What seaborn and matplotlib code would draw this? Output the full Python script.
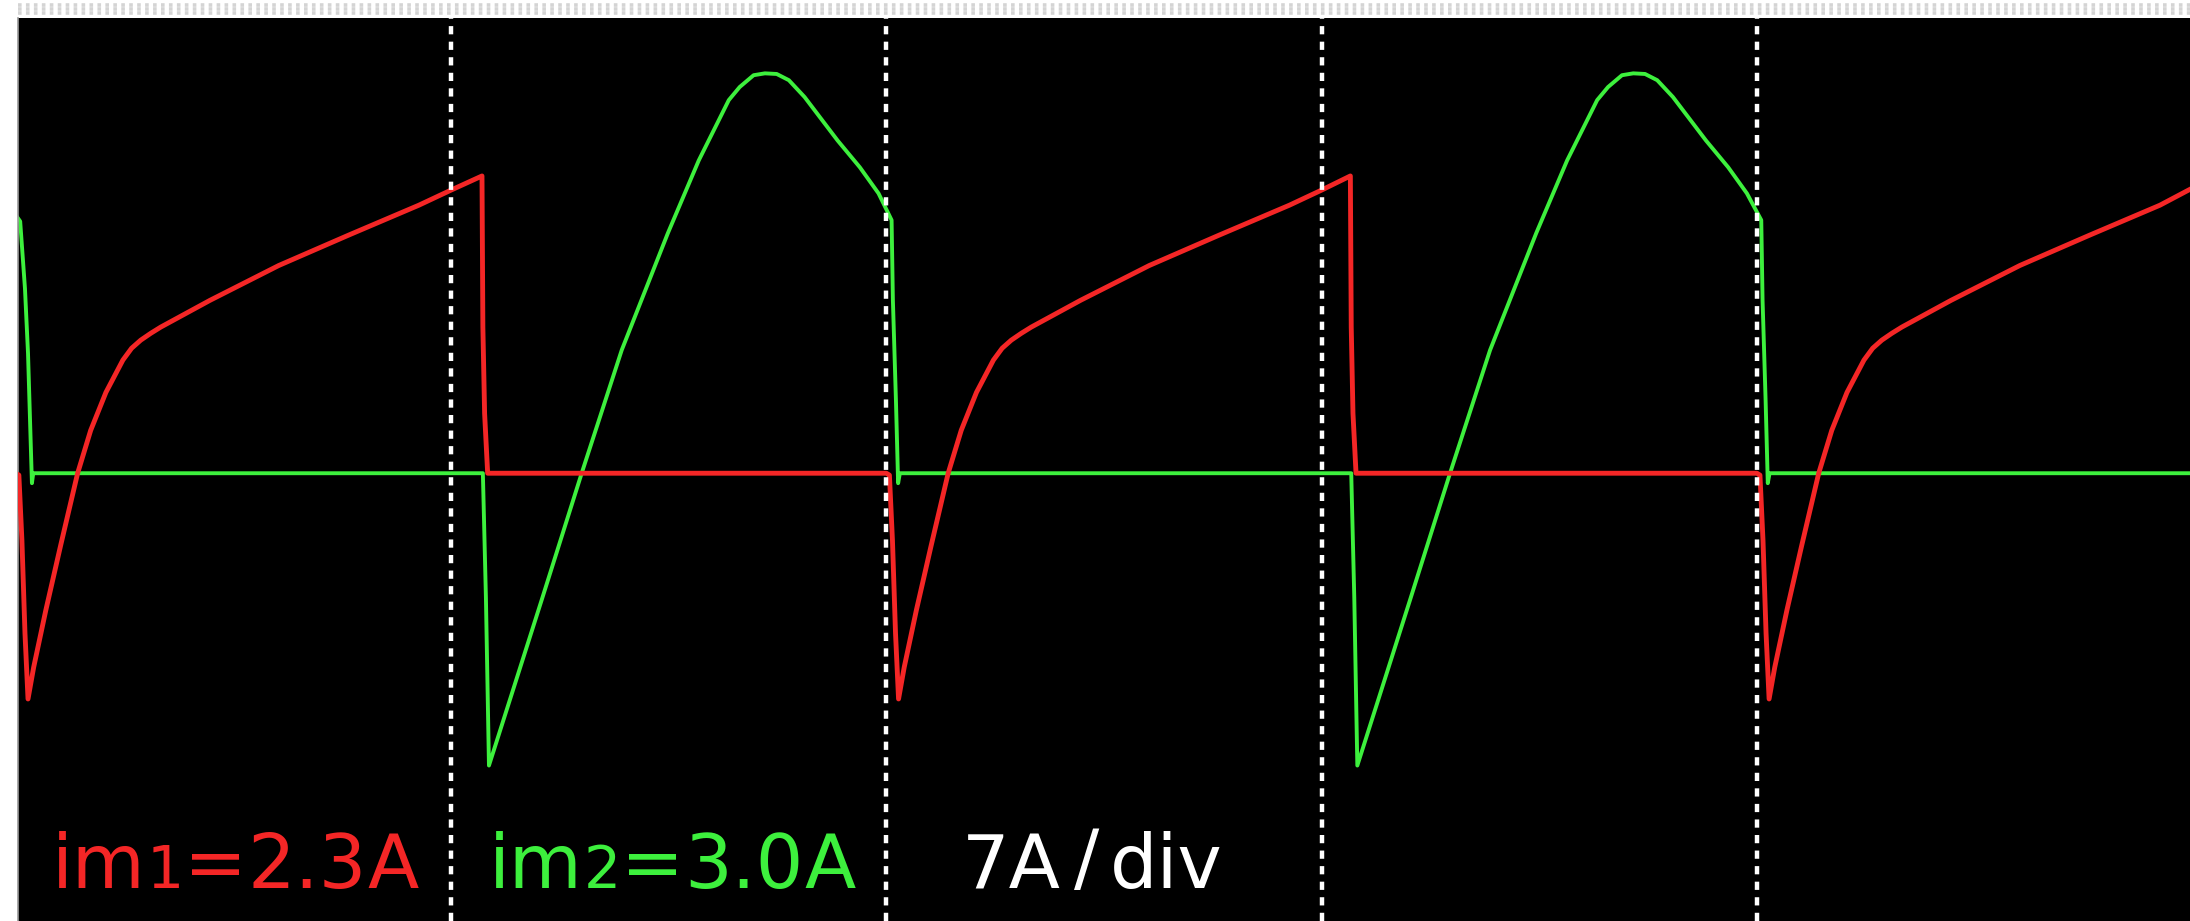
import numpy as np
import pandas as pd
import matplotlib
matplotlib.use("Agg")
import matplotlib.pyplot as plt
import seaborn as sns
from matplotlib.lines import Line2D

# ---------------- data (time in divisions, current in A; 7 A/div) ----------------
red_t = [0.000, 0.007, 0.014, 0.021, 0.028, 0.041, 0.069, 0.103, 0.142, 0.172, 0.207, 0.246,
         0.266, 0.287, 0.310, 0.333, 0.446, 0.604, 0.765, 0.926, 0.999, 1.071, 1.073, 1.077, 1.084,
         2.000, 2.007, 2.014, 2.021, 2.028, 2.041, 2.069, 2.103, 2.142, 2.172, 2.207, 2.246,
         2.266, 2.287, 2.310, 2.333, 2.446, 2.604, 2.765, 2.926, 2.999, 3.066, 3.068, 3.072, 3.079,
         4.000, 4.007, 4.014, 4.021, 4.028, 4.041, 4.069, 4.103, 4.142, 4.172, 4.207, 4.246,
         4.266, 4.287, 4.310, 4.333, 4.446, 4.604, 4.765, 4.926, 4.999]
red_a = [0.00, -0.03, -1.08, -2.57, -3.63, -3.12, -2.20, -1.16, 0.00, 0.69, 1.30, 1.82,
         2.01, 2.14, 2.25, 2.35, 2.78, 3.34, 3.83, 4.31, 4.55, 4.78, 2.35, 0.96, 0.00,
         0.00, -0.03, -1.08, -2.57, -3.63, -3.12, -2.20, -1.16, 0.00, 0.69, 1.30, 1.82,
         2.01, 2.14, 2.25, 2.35, 2.78, 3.34, 3.83, 4.31, 4.55, 4.78, 2.35, 0.96, 0.00,
         0.00, -0.03, -1.08, -2.57, -3.63, -3.12, -2.20, -1.16, 0.00, 0.69, 1.30, 1.82,
         2.01, 2.14, 2.25, 2.35, 2.78, 3.34, 3.83, 4.31, 4.58]

green_t = [0.000, 0.010, 0.021, 0.028, 0.037, 0.040,
           1.073, 1.080, 1.087, 1.208, 1.300, 1.392, 1.498, 1.569, 1.638, 1.663, 1.695,
           1.721, 1.748, 1.776, 1.812, 1.888, 1.939, 1.982, 2.012, 2.015, 2.022, 2.027, 2.031,
           3.068, 3.075, 3.082, 3.203, 3.295, 3.387, 3.493, 3.564, 3.633, 3.658, 3.690,
           3.716, 3.743, 3.771, 3.807, 3.883, 3.934, 3.977, 4.010, 4.013, 4.020, 4.025, 4.029,
           4.999]
green_a = [4.15, 4.05, 2.97, 1.93, -0.16, 0.00,
           0.00, -2.00, -4.70, -2.04, 0.00, 1.98, 3.86, 5.03, 6.00, 6.21, 6.40,
           6.43, 6.42, 6.32, 6.05, 5.35, 4.92, 4.50, 4.07, 2.78, 1.17, -0.16, 0.00,
           0.00, -2.00, -4.70, -2.04, 0.00, 1.98, 3.86, 5.03, 6.00, 6.21, 6.40,
           6.43, 6.42, 6.32, 6.05, 5.35, 4.92, 4.50, 4.07, 2.78, 1.17, -0.16, 0.00,
           0.00]

division_lines = [1, 2, 3, 4]

label_red = ["im", "1", "=", "2.3", "A"]
label_green = ["im", "2", "=", "3.0", "A"]
label_scale = ["7A", "/", "div"]

# ---------------- style ----------------
RED = "#f42626"
GREEN = "#3df03d"
W, H = 2190, 921

sns.set_theme(style="dark")
plt.rcParams['font.family'] = ['DejaVu Sans']

fig = plt.figure(figsize=(W / 100, H / 100), dpi=100)
fig.patch.set_facecolor("white")
ax = fig.add_axes([18 / W, 0, 1 - 18 / W, (H - 18) / H])
ax.set_facecolor("black")

red_df = pd.DataFrame({"t": red_t, "i": red_a})
green_df = pd.DataFrame({"t": green_t, "i": green_a})

sns.lineplot(data=green_df, x="t", y="i", ax=ax, color=GREEN, lw=2.8,
             estimator=None, sort=False, zorder=2)
sns.lineplot(data=red_df, x="t", y="i", ax=ax, color=RED, lw=3.5,
             estimator=None, sort=False, zorder=3)

for t in division_lines:
    ax.axvline(t, color="white", lw=3.2, dashes=(1.85, 1.65), zorder=4)

ax.set_xlim(0.005, 4.995)
ax.set_ylim(-7.20, 7.32)
ax.set_xticks([])
ax.set_yticks([])
ax.set_xlabel("")
ax.set_ylabel("")
for s in ax.spines.values():
    s.set_visible(False)
ax.spines["left"].set_visible(True)
ax.spines["left"].set_color("#9a9a9a")
ax.spines["left"].set_linewidth(1.2)

# light dotted band at the very top
for yy in [5, 9, 13]:
    fig.add_artist(Line2D([0.008, 1], [1 - yy / H, 1 - yy / H], transform=fig.transFigure,
                          color="#d4d4d4", lw=2.6, dashes=(1, 1.2)))

# ---------------- labels ----------------
base_px = 888
FS = 54
renderer = fig.canvas.get_renderer()


def put_pieces(pieces, xs, sizes, color, lifts=None, min_gap=0.5):
    lifts = lifts or [0] * len(pieces)
    prev_right = -1e9
    for txt, xp, sc, lf in zip(pieces, xs, sizes, lifts):
        x = max(xp, prev_right + min_gap)
        t = fig.text(x / W, (H - base_px + lf) / H, txt, color=color, fontsize=FS * sc,
                     ha="left", va="baseline", family=["DejaVu Sans"])
        prev_right = t.get_window_extent(renderer=renderer).x1


put_pieces(label_red, [52, 137, 180, 240, 356], [1, 0.78, 1, 1, 1], RED)
put_pieces(label_green, [489, 575, 621, 684, 803], [1, 0.78, 1, 1, 1], GREEN)
put_pieces(label_scale, [962, 1074, 1110], [1, 1, 1], "white", lifts=[0, 5, 0])

fig.savefig("out.png", dpi=100, facecolor=fig.get_facecolor())
